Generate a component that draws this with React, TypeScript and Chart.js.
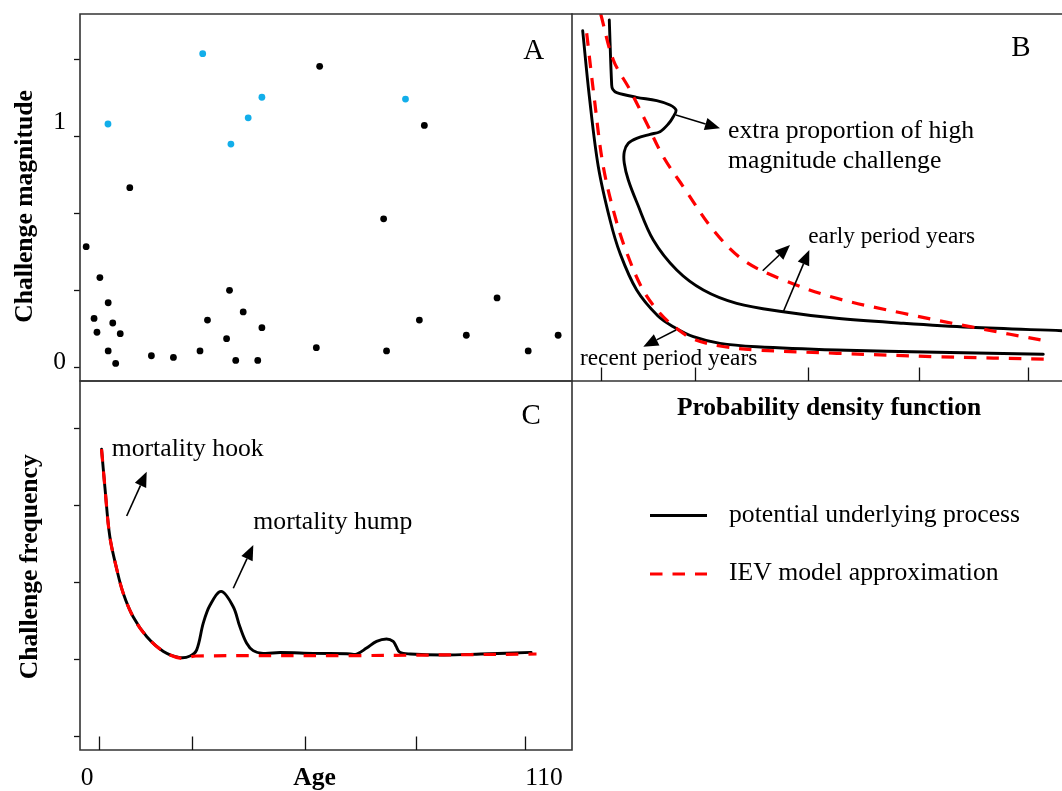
import React, { useEffect, useRef } from 'react';
import { Chart, registerables } from 'chart.js';

Chart.register(...registerables);

const PAGE_W = 1062;
const PAGE_H = 791;
const SERIF = "'Liberation Serif', 'Times New Roman', Times, serif";
Chart.defaults.font.family = SERIF;

// ---------------- Panel A : challenge magnitude by age ----------------
const blackAge = [-0.2, 1.7, 2.4, 3.1, 5.1, 5.1, 6.2, 6.9, 8.0, 10.3, 15.5, 20.8, 27.2, 29.0, 33.6, 34.3, 35.8, 37.6, 41.1, 42.1, 55.2, 56.0, 71.4, 72.1, 80.0, 81.2, 91.3, 98.7, 106.2, 113.4];
const blackMagnitude = [0.523, 0.212, 0.152, 0.389, 0.280, 0.071, 0.192, 0.017, 0.146, 0.779, 0.050, 0.043, 0.071, 0.205, 0.124, 0.334, 0.030, 0.240, 0.030, 0.172, 0.085, 1.305, 0.644, 0.071, 0.205, 1.049, 0.139, 0.301, 0.071, 0.139];
const blueAge = [5.05, 27.85, 34.64, 38.8, 42.1, 76.66];
const blueMagnitude = [1.055, 1.36, 0.968, 1.082, 1.171, 1.163];
const magnitudeTicks = [0, 1 / 3, 2 / 3, 1, 4 / 3];
const magnitudeLabels = ['0', '1'];
const magnitudeLabelValues = [0, 1];

// ---------------- Panel C : challenge frequency by age ----------------
const processAge = [3.5, 4.3, 5.5, 7.2, 8.7, 11.1, 14.4, 18.4, 22.4, 24.8, 26.4, 28.0, 29.6, 32.3, 35.2, 36.8, 38.4, 40.0, 42.4, 46.5, 54.5, 62.5, 64.9, 67.3, 69.7, 72.1, 73.7, 74.4, 75.3, 77.8, 85.9, 94.8, 106.9];
const processFrequency = [3.73, 3.24, 2.59, 2.16, 1.86, 1.55, 1.29, 1.10, 1.02, 1.04, 1.12, 1.47, 1.70, 1.88, 1.68, 1.42, 1.21, 1.11, 1.075, 1.085, 1.075, 1.07, 1.066, 1.144, 1.231, 1.262, 1.231, 1.166, 1.088, 1.066, 1.053, 1.066, 1.088];
const approxAge = [3.5, 4.3, 5.5, 7.2, 8.7, 11.1, 14.4, 18.4, 22.7, 26.2, 63.3, 108.2];
const approxFrequency = [3.73, 3.24, 2.59, 2.16, 1.86, 1.55, 1.29, 1.10, 1.01, 1.04, 1.045, 1.066];
const frequencyTicks = [0, 1, 2, 3, 4];
const ageLabels = ['0', '110'];
const ageLabelValues = [0, 110];
const ageTickMarks = [2.8, 25.2, 52.5, 79.1, 105.4];

// ---------------- Panel B : probability density curves ----------------
const recentProcessX = [2.18, 3.53, 5.37, 7.76, 9.8, 13.2, 17.55, 20.67, 24.76, 30.2, 37.69, 54.02, 74.43, 96.18];
const recentProcessY = [95.45, 77.66, 58.39, 43.87, 34.8, 24.8, 17.71, 14.8, 12.07, 10.27, 9.35, 8.45, 7.82, 7.28];
const recentApproxX = [3.0, 4.49, 6.39, 8.98, 11.22, 14.49, 17.96, 21.22, 24.76, 30.2, 37.69, 54.02, 74.43, 97.55];
const recentApproxY = [94.74, 77.66, 58.39, 43.87, 34.8, 24.8, 18.45, 14.44, 11.44, 9.54, 8.45, 7.55, 6.62, 5.91];
const earlyProcessX = [7.61, 8.1, 8.31, 9.12, 13.2, 17.29, 20.0, 21.22, 20.67, 19.65, 17.96, 15.92, 13.2, 11.49, 10.67, 10.67, 11.49, 13.2, 16.59, 21.37, 26.8, 33.61, 43.12, 54.02, 67.61, 81.22, 100];
const earlyProcessY = [98.37, 80.65, 79.48, 78.56, 77.3, 76.38, 75.2, 73.84, 72.02, 70.03, 67.93, 67.22, 66.13, 64.77, 62.48, 59.32, 54.77, 48.77, 38.42, 30.25, 24.8, 21.17, 18.88, 17.08, 15.72, 14.63, 13.71];
const earlyApproxX = [5.86, 8.43, 11.84, 15.24, 18.63, 22.71, 28.84, 34.96, 43.12, 54.02, 67.61, 81.22, 97.55];
const earlyApproxY = [100, 87.47, 79.29, 70.22, 61.12, 52.94, 41.14, 32.97, 27.52, 22.53, 18.45, 14.8, 10.71];
const pdfTickMarks = [5.9, 25.0, 48.2, 70.8, 93.0];

const legendLabels = ['potential underlying process', 'IEV model approximation'];

// ---------------- styles ----------------
const AGE_MIN = -1.685;
const AGE_MAX = 116.74;
const MAG_MIN = -0.0594;
const MAG_MAX = 1.532;
const FREQ_MIN = -0.182;
const FREQ_MAX = 4.616;
const BLUE = '#12aeea';
const RED = '#ff0000';
const FRAME = '#333333';
const AXIS_W = 30;
const X_AXIS_H = 40;
const processStyle = { borderColor: '#000000', borderWidth: 2.9, borderCapStyle: 'round', borderJoinStyle: 'round', pointRadius: 0, tension: 0.35, fill: false };
const approxStyle = { borderColor: RED, borderWidth: 3.2, borderDash: [12.5, 10], pointRadius: 0, tension: 0.35, fill: false };

type Pt = { x: number; y: number };
const zip = (xs: number[], ys: number[]): Pt[] => xs.map((x, i) => ({ x, y: ys[i] }));

type DataText = { text: string; x: number; y: number; size: number; bold?: boolean; align?: CanvasTextAlign };
type PageText = DataText & { rotate?: boolean; baseline?: CanvasTextBaseline };
type Deco = {
  sides: Array<'top' | 'right' | 'bottom' | 'left'>;
  innerTicks?: number[];
  arrows?: number[][];
  texts?: DataText[];
  pageTexts?: PageText[];
  yLabels?: { texts: string[]; values: number[]; dy: number[]; x: number; size: number };
  legend?: { x: number; w: number; textX: number; rows: number[]; size: number };
};

function font(size: number, bold?: boolean) {
  return `${bold ? 'bold ' : ''}${size}px ${SERIF}`;
}

function drawArrow(ctx: CanvasRenderingContext2D, x1: number, y1: number, x2: number, y2: number) {
  const a = Math.atan2(y2 - y1, x2 - x1);
  const L = 15;
  const hw = 6.2;
  const bx = x2 - L * Math.cos(a);
  const by = y2 - L * Math.sin(a);
  ctx.beginPath();
  ctx.moveTo(x1, y1);
  ctx.lineTo(bx, by);
  ctx.lineWidth = 1.6;
  ctx.strokeStyle = '#000';
  ctx.setLineDash([]);
  ctx.stroke();
  ctx.beginPath();
  ctx.moveTo(x2, y2);
  ctx.lineTo(bx + hw * Math.sin(a), by - hw * Math.cos(a));
  ctx.lineTo(bx - hw * Math.sin(a), by + hw * Math.cos(a));
  ctx.closePath();
  ctx.fillStyle = '#000';
  ctx.fill();
}

function decoPlugin(id: string, deco: Deco) {
  return {
    id,
    afterDraw(chart: any) {
      const ctx: CanvasRenderingContext2D = chart.ctx;
      const { left, right, top, bottom } = chart.chartArea;
      const xs = chart.scales.x;
      const ys = chart.scales.y;
      ctx.save();
      // frame
      ctx.strokeStyle = FRAME;
      ctx.lineWidth = 1.6;
      ctx.lineCap = 'square';
      ctx.setLineDash([]);
      ctx.beginPath();
      for (const s of deco.sides) {
        if (s === 'top') { ctx.moveTo(left, top); ctx.lineTo(right, top); }
        if (s === 'bottom') { ctx.moveTo(left, bottom); ctx.lineTo(right, bottom); }
        if (s === 'left') { ctx.moveTo(left, top); ctx.lineTo(left, bottom); }
        if (s === 'right') { ctx.moveTo(right, top); ctx.lineTo(right, bottom); }
      }
      ctx.stroke();
      // inward tick marks on the bottom axis
      if (deco.innerTicks) {
        ctx.strokeStyle = '#111';
        ctx.lineWidth = 1.3;
        ctx.lineCap = 'butt';
        ctx.beginPath();
        for (const v of deco.innerTicks) {
          const px = Math.round(xs.getPixelForValue(v)) + 0.5;
          ctx.moveTo(px, bottom);
          ctx.lineTo(px, bottom - 13.5);
        }
        ctx.stroke();
      }
      // arrows
      for (const a of deco.arrows || []) {
        drawArrow(ctx, xs.getPixelForValue(a[0]), ys.getPixelForValue(a[1]), xs.getPixelForValue(a[2]), ys.getPixelForValue(a[3]));
      }
      ctx.fillStyle = '#000';
      // texts in data coordinates
      for (const t of deco.texts || []) {
        ctx.font = font(t.size, t.bold);
        ctx.textAlign = t.align || 'left';
        ctx.textBaseline = 'alphabetic';
        ctx.fillText(t.text, xs.getPixelForValue(t.x), ys.getPixelForValue(t.y));
      }
      // y labels
      if (deco.yLabels) {
        const yl = deco.yLabels;
        ctx.font = font(yl.size);
        ctx.textAlign = 'right';
        ctx.textBaseline = 'middle';
        yl.texts.forEach((txt, i) => {
          ctx.fillText(txt, yl.x, ys.getPixelForValue(yl.values[i]) + yl.dy[i]);
        });
      }
      // page texts
      for (const t of deco.pageTexts || []) {
        ctx.save();
        ctx.font = font(t.size, t.bold);
        ctx.textAlign = t.align || 'center';
        ctx.textBaseline = t.baseline || 'alphabetic';
        ctx.translate(t.x, t.y);
        if (t.rotate) ctx.rotate(-Math.PI / 2);
        ctx.fillText(t.text, 0, 0);
        ctx.restore();
      }
      // legend
      if (deco.legend) {
        const lg = deco.legend;
        lg.rows.forEach((rowY, i) => {
          const ds = chart.data.datasets.find((d: any) => d.label === legendLabels[i]);
          ctx.beginPath();
          ctx.strokeStyle = ds.borderColor;
          ctx.lineWidth = ds.borderWidth;
          ctx.lineCap = 'butt';
          ctx.setLineDash(ds.borderDash || []);
          ctx.moveTo(lg.x, rowY);
          ctx.lineTo(lg.x + lg.w, rowY);
          ctx.stroke();
          ctx.setLineDash([]);
          ctx.font = font(lg.size);
          ctx.textAlign = 'left';
          ctx.textBaseline = 'alphabetic';
          ctx.fillStyle = '#000';
          ctx.fillText(legendLabels[i], lg.textX, rowY + 6.3);
        });
      }
      ctx.restore();
    },
  };
}

const baseOptions = {
  responsive: false,
  animation: false as const,
  devicePixelRatio: 1,
  events: [] as any[],
  plugins: { legend: { display: false }, tooltip: { enabled: false } },
};

const leftAxis = (min: number, max: number, ticks: number[]) => ({
  type: 'linear',
  min,
  max,
  afterBuildTicks: (s: any) => { s.ticks = ticks.map((v) => ({ value: v })); },
  afterFit: (s: any) => { s.width = AXIS_W; },
  ticks: { callback: () => '', padding: 0 },
  grid: { drawOnChartArea: false, drawTicks: true, tickLength: 6, tickColor: '#111', tickWidth: 1.3 },
  border: { display: false },
});

function buildA(canvas: HTMLCanvasElement) {
  return new Chart(canvas, {
    type: 'scatter',
    data: {
      datasets: [
        { label: 'challenge', data: zip(blackAge, blackMagnitude), backgroundColor: '#000', borderWidth: 0, pointRadius: 3.4 },
        { label: 'high magnitude', data: zip(blueAge, blueMagnitude), backgroundColor: BLUE, borderWidth: 0, pointRadius: 3.4 },
      ],
    },
    options: {
      ...baseOptions,
      layout: { padding: { left: 80 - AXIS_W, top: 14, right: PAGE_W - 572, bottom: PAGE_H - 381 } },
      scales: {
        x: { type: 'linear', display: false, min: AGE_MIN, max: AGE_MAX },
        y: leftAxis(MAG_MIN, MAG_MAX, magnitudeTicks),
      },
    } as any,
    plugins: [
      decoPlugin('decoA', {
        sides: ['top', 'left', 'bottom', 'right'],
        texts: [{ text: 'A', x: 107.5, y: 1.337, size: 29, align: 'center' }],
        yLabels: { texts: magnitudeLabels, values: magnitudeLabelValues, dy: [-5.5, -14], x: 66, size: 25.5 },
        pageTexts: [{ text: 'Challenge magnitude', x: 25, y: 206.5, size: 25.6, bold: true, rotate: true, baseline: 'middle' }],
      }),
    ],
  });
}

function buildB(canvas: HTMLCanvasElement) {
  return new Chart(canvas, {
    type: 'line',
    data: {
      datasets: [
        { label: legendLabels[1], data: zip(earlyApproxX, earlyApproxY), ...approxStyle, order: 0 },
        { label: 'recent approximation', data: zip(recentApproxX, recentApproxY), ...approxStyle, order: 0 },
        { label: legendLabels[0], data: zip(earlyProcessX, earlyProcessY), ...processStyle, order: 1 },
        { label: 'recent process', data: zip(recentProcessX, recentProcessY), ...processStyle, order: 1 },
      ],
    } as any,
    options: {
      ...baseOptions,
      layout: { padding: { left: 572, top: 14, right: 0, bottom: PAGE_H - 381 } },
      scales: {
        x: { type: 'linear', display: false, min: 0, max: 100 },
        y: { type: 'linear', display: false, min: 0, max: 100 },
      },
    } as any,
    plugins: [
      decoPlugin('decoB', {
        sides: ['top', 'bottom'],
        innerTicks: pdfTickMarks,
        arrows: [
          [21.22, 72.48, 30.2, 68.86],
          [38.92, 30.05, 44.49, 37.06],
          [43.12, 18.88, 48.43, 35.69],
          [21.22, 13.9, 14.55, 9.35],
        ],
        texts: [
          { text: 'B', x: 91.6, y: 88.56, size: 29, align: 'center' },
          { text: 'extra proportion of high', x: 31.84, y: 66.13, size: 25.7 },
          { text: 'magnitude challenge', x: 31.84, y: 57.96, size: 25.7 },
          { text: 'early period years', x: 48.22, y: 37.52, size: 23.3 },
          { text: 'recent period years', x: 1.63, y: 4.36, size: 23.3 },
        ],
        pageTexts: [{ text: 'Probability density function', x: 829, y: 415, size: 25.5, bold: true }],
        legend: { x: 650, w: 57, textX: 729, rows: [515.5, 574], size: 25.7 },
      }),
    ],
  });
}

function buildC(canvas: HTMLCanvasElement) {
  return new Chart(canvas, {
    type: 'line',
    data: {
      datasets: [
        { label: legendLabels[1], data: zip(approxAge, approxFrequency), ...approxStyle, order: 0 },
        { label: legendLabels[0], data: zip(processAge, processFrequency), ...processStyle, order: 1 },
      ],
    } as any,
    options: {
      ...baseOptions,
      layout: { padding: { left: 80 - AXIS_W, top: 381, right: PAGE_W - 572, bottom: PAGE_H - 750 - X_AXIS_H } },
      scales: {
        x: {
          type: 'linear',
          min: AGE_MIN,
          max: AGE_MAX,
          afterBuildTicks: (s: any) => { s.ticks = ageLabelValues.map((v) => ({ value: v })); },
          afterFit: (s: any) => { s.height = X_AXIS_H; },
          ticks: {
            callback: (_v: any, i: number) => ageLabels[i],
            font: { family: SERIF, size: 25.5 },
            color: '#000',
            padding: 13,
            maxRotation: 0,
            autoSkip: false,
          },
          grid: { display: false, drawTicks: false },
          border: { display: false },
        },
        y: leftAxis(FREQ_MIN, FREQ_MAX, frequencyTicks),
      },
    } as any,
    plugins: [
      decoPlugin('decoC', {
        sides: ['top', 'left', 'bottom', 'right'],
        innerTicks: ageTickMarks,
        arrows: [
          [9.55, 2.861, 14.37, 3.437],
          [35.21, 1.921, 40.03, 2.484],
        ],
        texts: [
          { text: 'C', x: 106.9, y: 4.057, size: 29, align: 'center' },
          { text: 'mortality hook', x: 5.95, y: 3.641, size: 25.7 },
          { text: 'mortality hump', x: 40.03, y: 2.688, size: 25.7 },
        ],
        pageTexts: [
          { text: 'Challenge frequency', x: 30.5, y: 566.7, size: 25.6, bold: true, rotate: true, baseline: 'middle' },
          { text: 'Age', x: 314.5, y: 785, size: 25.6, bold: true },
        ],
      }),
    ],
  });
}

function ChartCanvas({ build }: { build: (c: HTMLCanvasElement) => Chart }) {
  const ref = useRef<HTMLCanvasElement>(null);
  useEffect(() => {
    const chart = build(ref.current as HTMLCanvasElement);
    return () => chart.destroy();
  }, [build]);
  return <canvas ref={ref} width={PAGE_W} height={PAGE_H} style={{ position: 'absolute', left: 0, top: 0 }} />;
}

export default function App() {
  return (
    <div style={{ position: 'absolute', left: 0, top: 0, width: PAGE_W, height: PAGE_H, background: '#fff', overflow: 'hidden' }}>
      <ChartCanvas build={buildA} />
      <ChartCanvas build={buildB} />
      <ChartCanvas build={buildC} />
    </div>
  );
}
